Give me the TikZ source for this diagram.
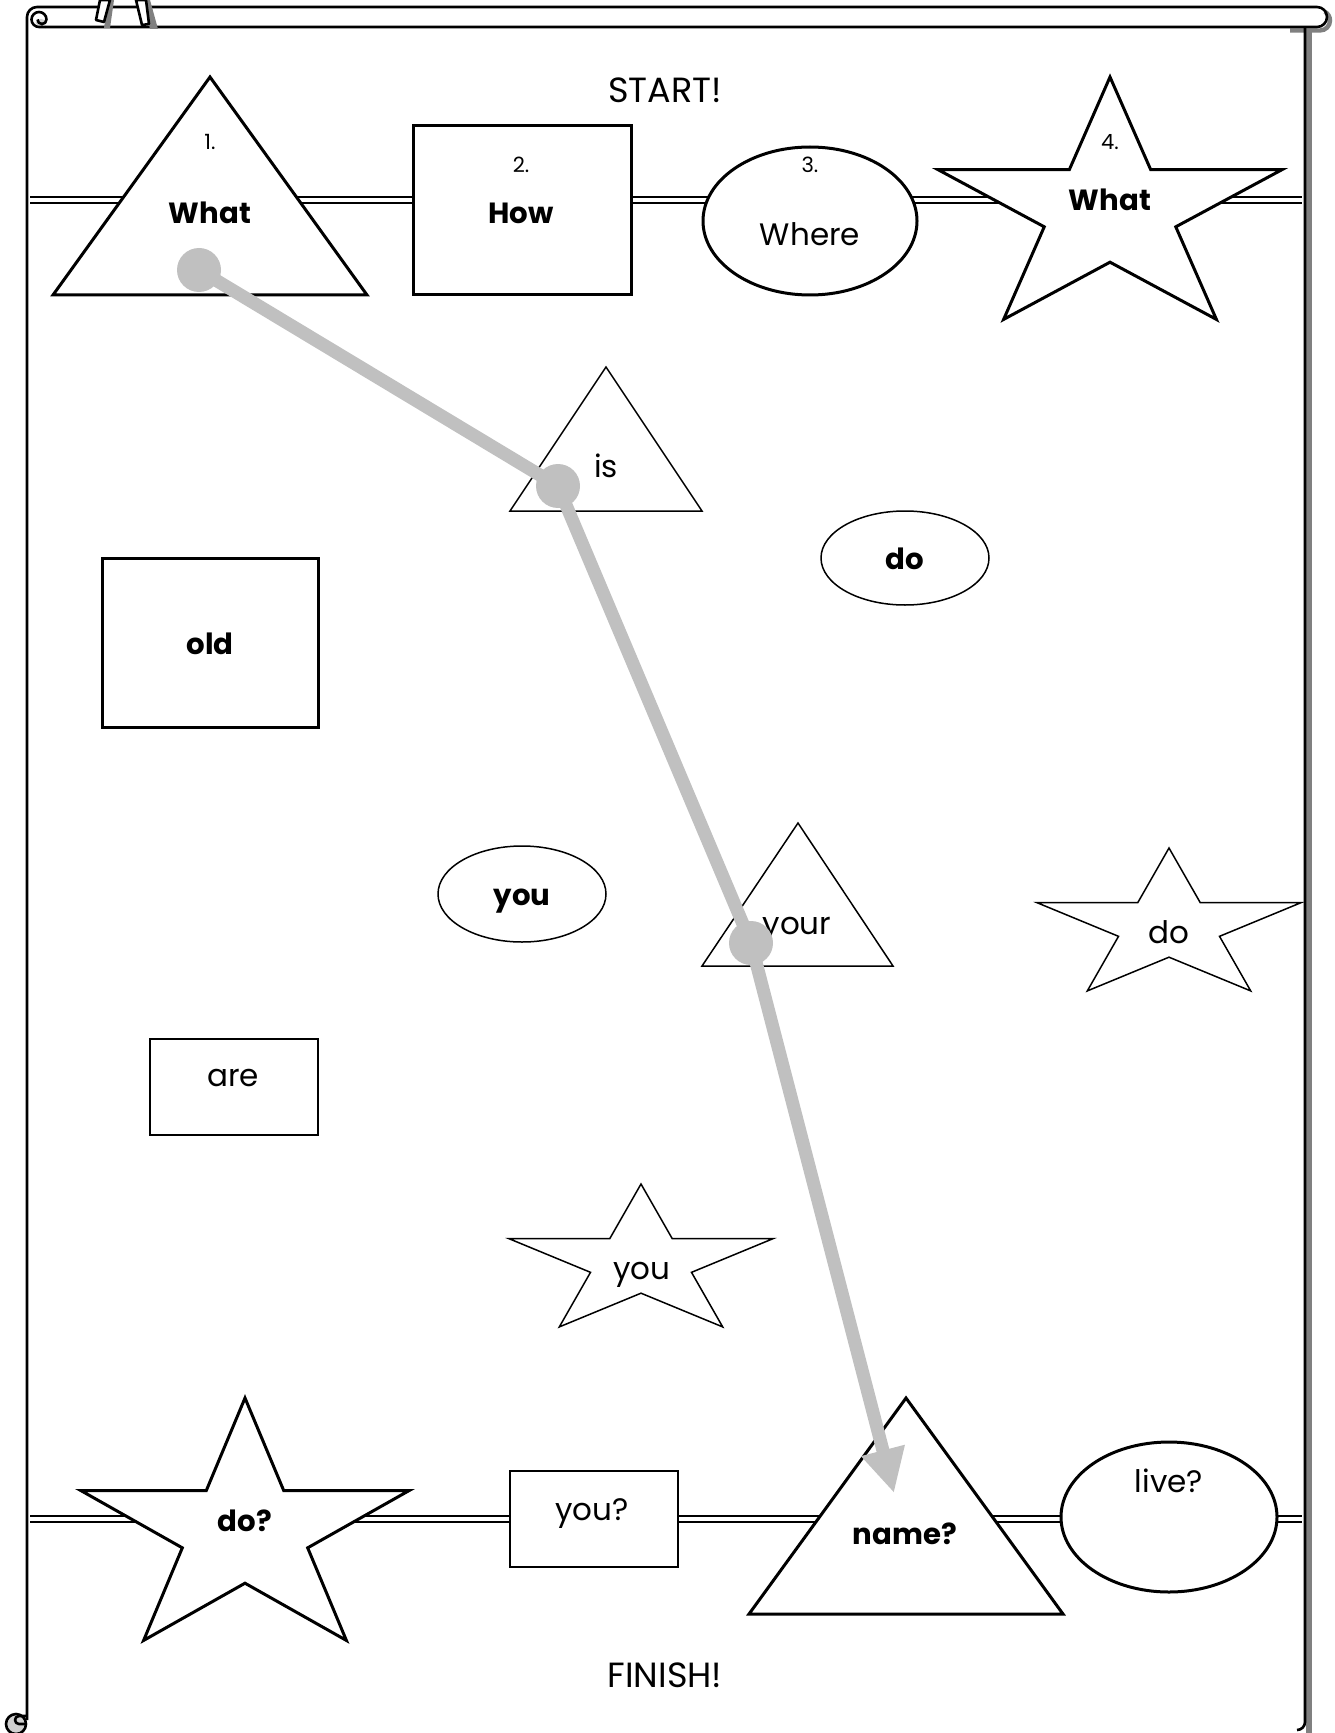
\documentclass[tikz,border=0pt]{standalone}
\usepackage{fontspec}
\setmainfont{Poppins}
\usetikzlibrary{arrows.meta}
\definecolor{pathgray}{HTML}{C0C0C0}
\definecolor{shadowgray}{HTML}{808080}
\definecolor{curlgray}{HTML}{D0D0D0}
\newcommand\mystar[5]{%
  \draw[#5] plot[samples at={0,...,9}, variable=\k]
    ({#1+#3*(mod(\k,2)==0?1:0.382)*cos(90+36*\k)},
     {#2-#4*(mod(\k,2)==0?1:0.382)*sin(90+36*\k)}) -- cycle;}
\tikzset{
  frame/.style={line width=1.3pt, black, line join=round},
  shpthick/.style={line width=1.5pt, draw=black, fill=white},
  shpthin/.style={line width=0.75pt, draw=black, fill=white},
  dline/.style={line width=1.1pt, black},
  lbl/.style={inner sep=0pt, text height=0.7em, text depth=0pt, anchor=center, yshift=-2.3pt, font=\fontsize{15.5}{18}\selectfont},
  blbl/.style={lbl, font=\fontsize{14.6}{18}\selectfont\bfseries},
  numlbl/.style={lbl, font=\fontsize{10.5}{12}\selectfont},
  titlbl/.style={lbl, font=\fontsize{17.5}{20}\selectfont},
  gdot/.style={circle, fill=pathgray, inner sep=0pt, minimum size=22pt},
  gpath/.style={pathgray, line width=6.5pt, line join=round, -{Triangle[length=22pt,width=21pt]}}
}
\begin{document}
\begin{tikzpicture}[x=0.5pt,y=-0.5pt]
\useasboundingbox (0,0) rectangle (1334,1733);
\fill[white] (0,0) rectangle (1334,1733);

% ---- scroll frame ----
\fill[shadowgray] (1306,30) rectangle (1312,1733);
\draw[shadowgray, line width=2.2pt] (1290,30.5) -- (1320,30.5) arc[start angle=90, end angle=-60, radius=10];
\draw[frame] (27,1720) -- (27,17) arc[start angle=180, end angle=270, radius=10]
  -- (1317,7) arc[start angle=-90, end angle=90, radius=10] -- (45,27);
\draw[frame] (1305,27) -- (1305,1722) arc[start angle=0, end angle=90, radius=8];
% top-left curl
\fill[curlgray] (41,22.5) ellipse [x radius=5.5, y radius=3.5];
\draw[frame] (45,27) -- (39,27) arc[start angle=90, end angle=360, radius=7.5]
  arc[start angle=0, end angle=180, radius=4.5];
% bottom-left curl
\filldraw[frame, fill=curlgray] (16,1724) circle[radius=10];
\draw[frame] (26,1716) -- (19,1716) arc[start angle=270, end angle=90, radius=4] -- (25,1724);
% hanging strips
\fill[shadowgray] (108,0) -- (114,0) -- (110,28) -- (104,28) -- cycle;
\filldraw[frame, fill=white] (100,0) -- (110,0) -- (104,22) -- (96,20) -- cycle;
\fill[shadowgray] (144,0) -- (150,0) -- (158,29) -- (150,29) -- cycle;
\filldraw[frame, fill=white] (136,0) -- (146,0) -- (149,24) -- (142,25) -- cycle;

% ---- double lines ----
\draw[dline] (30,197) -- (1302,197);
\draw[dline] (30,203) -- (1302,203);
\draw[dline] (30,1516) -- (1302,1516);
\draw[dline] (30,1522) -- (1302,1522);

% ---- top row ----
\draw[shpthick] (210,77) -- (367,295) -- (53,295) -- cycle;
\draw[shpthick] (413,126) rectangle (631,295);
\draw[shpthick] (810,221) ellipse [x radius=107, y radius=74];
\mystar{1110}{211}{181}{134}{shpthick}

% ---- middle ----
\draw[shpthin] (606,367) -- (702,511) -- (510,511) -- cycle;
\draw[shpthin] (905,558) ellipse [x radius=84, y radius=47];
\draw[shpthick] (102,558) rectangle (318,727);
\draw[shpthin] (522,894) ellipse [x radius=84, y radius=48];
\draw[shpthin] (798,823) -- (893,966) -- (702,966) -- cycle;
\mystar{1169}{927}{139}{79}{shpthin}
\draw[shpthin] (150,1039) rectangle (318,1135);
\mystar{641}{1263}{139}{79}{shpthin}

% ---- bottom row ----
\mystar{245}{1532}{172.5}{134}{shpthick}
\draw[shpthin] (510,1471) rectangle (678,1567);
\draw[shpthick] (906,1398) -- (1063,1614) -- (749,1614) -- cycle;
\draw[shpthick] (1169,1517) ellipse [x radius=108, y radius=75];

% ---- labels ----
\node[titlbl] (start) at (665,91) {START!};
\node[titlbl] (finish) at (665,1676) {FINISH!};
\node[numlbl] (n1) at (210,138) {1.};
\node[blbl] (w1) at (210,212) {What};
\node[numlbl] (n2) at (521,161) {2.};
\node[blbl] (w2) at (521,212) {How};
\node[numlbl] (n3) at (810,161) {3.};
\node[lbl] (w3) at (810,234) {Where};
\node[numlbl] (n4) at (1110,138) {4.};
\node[blbl] (w4) at (1110,199) {What};
\node[lbl] (wis) at (606,466) {is};
\node[blbl] (wdo1) at (905,558) {do};
\node[blbl] (wold) at (210,643) {old};
\node[blbl] (wyou1) at (522,894) {you};
\node[lbl] (wyour) at (797,923) {your};
\node[lbl] (wdo2) at (1169,932) {do};
\node[lbl] (ware) at (233,1075) {are};
\node[lbl] (wyou2) at (642,1268) {you};
\node[blbl] (wdoq) at (245,1520) {do?};
\node[lbl] (wyouq) at (592,1509) {you?};
\node[blbl] (wname) at (905,1533) {name?};
\node[lbl] (wlive) at (1169,1481) {live?};

% ---- answer path ----
\coordinate (p1) at (199,270);
\coordinate (p2) at (558,486);
\coordinate (p3) at (751,943);
\coordinate (tip) at (894,1493);
\draw[gpath] (p1) -- (p2) -- (p3) -- (tip);
\node[gdot] (c1) at (p1) {};
\node[gdot] (c2) at (p2) {};
\node[gdot] (c3) at (p3) {};
\end{tikzpicture}
\end{document}
